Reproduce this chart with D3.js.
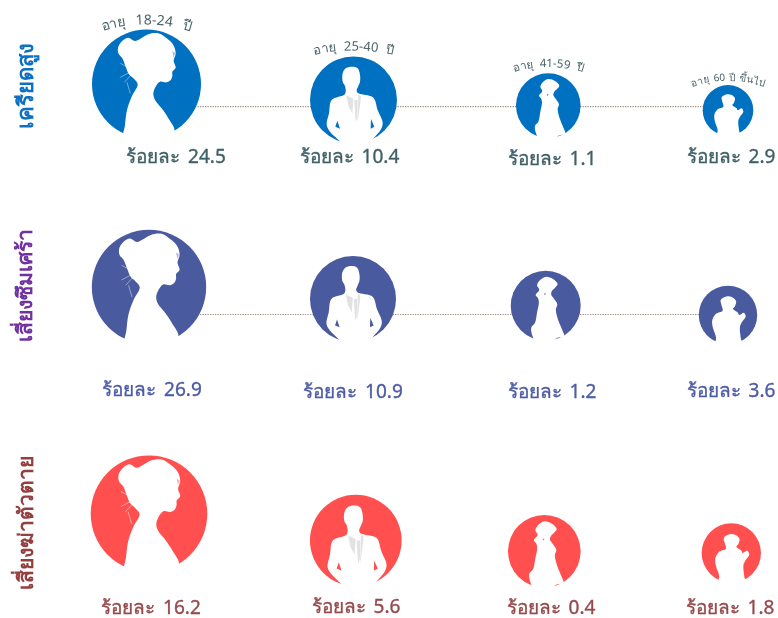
<!DOCTYPE html>
<html>
<head>
<meta charset="utf-8">
<script src="https://cdn.jsdelivr.net/npm/d3@7"></script>
<style>
  html, body { margin: 0; padding: 0; background: #fff; }
  svg { display: block; }
  text { font-family: "Noto Sans", "Open Sans", sans-serif; }
</style>
</head>
<body>
<div id="chart"></div>
<script>
// Data
var risks = ["เครียดสูง", "เสี่ยงซึมเศร้า", "เสี่ยงฆ่าตัวตาย"];
var ageKeys = ["18-24", "25-40", "41-59", "60+"];
var ageLabels = ["อายุ 18-24 ปี", "อายุ 25-40 ปี", "อายุ 41-59 ปี", "อายุ 60 ปี ขึ้นไป"];
var stressValues = [24.5, 10.4, 1.1, 2.9];
var depressionValues = [26.9, 10.9, 1.2, 3.6];
var suicideValues = [16.2, 5.6, 0.4, 1.8];
// circle size as drawn, percent of the biggest circle
var stressSizes = [93.5, 74.6, 55.4, 43.4];
var depressionSizes = [98.1, 73.8, 60.0, 50.1];
var suicideSizes = [100, 78.6, 62.3, 50.9];

var valueRows = [stressValues, depressionValues, suicideValues];
var sizeRows = [stressSizes, depressionSizes, suicideSizes];

// SVG Dimensions
var svgWidth = 778;
var svgHeight = 618;

// Styles per row
var circleColors = ["#0070c0", "#4a5a9f", "#ff5050"];
var labelColors = ["#3f6066", "#4d5ba6", "#96494b"];
var titleColors = ["#0e70c0", "#7030a0", "#953f41"];

// Layout: the picture is hand placed, so each cell gets a nudge from its column
var colX = d3.scaleOrdinal().domain(ageKeys).range([148, 354, 546, 729]);
var rowY = d3.scaleOrdinal().domain(risks).range([100, 305, 540]);
var sizeScale = d3.scaleLinear().domain([0, 100]).range([0, 58.3]);

var circleNudge = [
  [[-1.5, -16], [-0.5, 0], [2.3, 5.6], [-1, 10.3]],
  [[1, -18], [-1, -6], [-0.3, 0.7], [-1, 10]],
  [[1, -26.3], [1.8, 0.5], [-1.7, 11.3], [2.3, 13]]
];
var labelPos = [
  [[176, 163], [349.5, 163], [552, 165], [731, 163]],
  [[152, 396], [353, 397.5], [552, 397.5], [731, 396.5]],
  [[151, 613.5], [356, 613], [551, 613.5], [730, 613.5]]
];
var titlePos = [[33, 86], [32, 285.5], [33, 523]];
var titleSize = [22, 21, 21];
var dottedY = [106.7, 314.5];
var ageFont = [14, 13, 11.5, 10];
var ageWordGap = [6, 4, 3, 1.5];
var ageTop = [24.5, 50.5, 67, 80.7];
var ageArc = [140, 170, 110, 110];

// Silhouettes traced in crop pixels; ref = the circle they were traced in
var shapes = [
  {
    ref: [184.5, 177, 163.5],
    body: [[116, 345], [120, 300], [126, 255], [140, 215], [158, 178], [145, 160], [132, 148], [122, 125], [112, 100], [100, 85], [100, 65], [115, 45], [130, 38], [150, 48], [165, 42], [190, 28], [220, 25], [245, 40], [265, 60], [272, 85], [266, 108], [272, 128], [262, 140], [262, 152], [257, 165], [245, 172], [225, 170], [212, 185], [205, 205], [210, 225], [230, 250], [250, 280], [268, 320], [200, 350]],
    cuts: [],
    wisps: [[[106, 115], [130, 128]], [[106, 157], [134, 142]], [[118, 172], [138, 150]], [[126, 172], [136, 206]]],
    streak: [[262, 78], [270, 84], [266, 98]]
  },
  {
    ref: [145.5, 150, 130.5],
    body: [[140, 50], [158, 55], [165, 75], [165, 95], [160, 108], [155, 122], [160, 130], [205, 143], [218, 180], [233, 218], [228, 238], [212, 258], [195, 275], [150, 295], [110, 278], [92, 262], [75, 245], [65, 225], [72, 190], [80, 150], [120, 132], [120, 108], [113, 95], [113, 70], [122, 55]],
    cuts: [[[97, 212], [91, 230], [105, 236]], [[198, 207], [208, 230], [197, 236]]],
    shirt: [[[124, 136], [145, 146], [142, 190], [130, 168]], [[148, 150], [158, 150], [157, 205], [152, 215]], [[160, 132], [168, 140], [162, 190], [158, 215]]]
  },
  {
    ref: [114.9, 121.8, 96.9],
    body: [[115, 42], [135, 48], [148, 62], [141, 72], [133, 80], [130, 90], [136, 100], [147, 118], [143, 132], [149, 160], [161, 190], [166, 206], [145, 212], [130, 225], [90, 225], [78, 205], [75, 182], [85, 170], [91, 140], [96, 112], [93, 100], [87, 92], [97, 78], [91, 65], [100, 50]],
    cuts: [[[110, 88], [115, 88], [113, 93]]]
  },
  {
    ref: [99, 91, 75.9],
    body: [[95, 43], [110, 45], [120, 55], [117, 68], [112, 75], [125, 85], [128, 91], [140, 85], [145, 95], [135, 110], [130, 122], [132, 150], [135, 172], [66, 172], [68, 150], [60, 125], [58, 105], [68, 88], [85, 80], [82, 65], [80, 52]],
    cuts: []
  }
];

//SVG Wrapper
var svg = d3.select("#chart")
  .append("svg")
  .attr("width", svgWidth)
  .attr("height", svgHeight);

// soft edge, the reference is a scaled up bitmap
svg.append("defs").append("filter")
  .attr("id", "soft")
  .append("feGaussianBlur")
  .attr("stdDeviation", 0.45);

var chartGroup = svg.append("g").attr("filter", "url(#soft)");

var outline = d3.line().curve(d3.curveCatmullRomClosed.alpha(0.5));
var poly = d3.line().curve(d3.curveLinearClosed);
var open = d3.line().curve(d3.curveLinear);

// Flatten to one record per cell
var cells = [];
risks.forEach(function(risk, i) {
  ageKeys.forEach(function(age, j) {
    cells.push({
      row: i,
      col: j,
      value: valueRows[i][j],
      r: sizeScale(sizeRows[i][j]),
      x: colX(age) + circleNudge[i][j][0],
      y: rowY(risk) + circleNudge[i][j][1]
    });
  });
});

// Dotted connectors, behind the circles
chartGroup.selectAll(".connector")
  .data(dottedY)
  .enter()
  .append("line")
  .attr("class", "connector")
  .attr("x1", 150)
  .attr("x2", 728)
  .attr("y1", d => d)
  .attr("y2", d => d)
  .attr("stroke", "#9c8f85")
  .attr("stroke-width", 1.2)
  .attr("stroke-dasharray", "1.3 1.2");

// Circles with the white figure on top
var people = chartGroup.selectAll(".person")
  .data(cells)
  .enter()
  .append("g")
  .attr("class", "person")
  .attr("transform", d => `translate(${d.x}, ${d.y})`);

people.append("circle")
  .attr("r", d => d.r)
  .attr("fill", d => circleColors[d.row]);

var figures = people.append("g")
  .attr("transform", function(d) {
    var ref = shapes[d.col].ref;
    return `scale(${d.r / ref[2]}) translate(${-ref[0]}, ${-ref[1]})`;
  });

figures.append("path")
  .attr("d", d => outline(shapes[d.col].body))
  .attr("fill", "#fff");

figures.each(function(d) {
  var fig = d3.select(this);
  var shape = shapes[d.col];
  (shape.shirt || []).forEach(function(s) {
    fig.append("path").attr("d", poly(s)).attr("fill", "#e2e2e2");
  });
  shape.cuts.forEach(function(c) {
    fig.append("path").attr("d", poly(c)).attr("fill", circleColors[d.row]);
  });
  (shape.wisps || []).forEach(function(w) {
    fig.append("path").attr("d", open(w))
      .attr("fill", "none")
      .attr("stroke", "#fff")
      .attr("stroke-width", 1.6)
      .attr("opacity", 0.8);
  });
  if (shape.streak) {
    fig.append("path").attr("d", poly(shape.streak))
      .attr("fill", circleColors[d.row])
      .attr("opacity", 0.45);
  }
});

// Percent labels
chartGroup.selectAll(".value")
  .data(cells)
  .enter()
  .append("text")
  .attr("class", "value")
  .attr("x", d => labelPos[d.row][d.col][0])
  .attr("y", d => labelPos[d.row][d.col][1])
  .attr("text-anchor", "middle")
  .attr("font-size", "19px")
  .attr("word-spacing", "3px")
  .attr("fill", d => labelColors[d.row])
  .attr("stroke", d => labelColors[d.row])
  .attr("stroke-width", 0.35)
  .text(d => "ร้อยละ " + d.value);

// Row titles, rotated
chartGroup.selectAll(".title")
  .data(risks)
  .enter()
  .append("text")
  .attr("class", "title")
  .attr("transform", (d, i) => `translate(${titlePos[i][0]}, ${titlePos[i][1]}) rotate(-90)`)
  .attr("text-anchor", "middle")
  .attr("font-size", (d, i) => titleSize[i] + "px")
  .attr("font-weight", "bold")
  .attr("fill", (d, i) => titleColors[i])
  .text(d => d);

// Age labels sit on shallow arcs above the first row circles
var firstRow = cells.filter(d => d.row === 0);

chartGroup.selectAll(".agePath")
  .data(firstRow)
  .enter()
  .append("path")
  .attr("class", "agePath")
  .attr("id", d => "age" + d.col)
  .attr("fill", "none")
  .attr("d", function(d) {
    var r = ageArc[d.col];
    var cy = ageTop[d.col] + r;
    return `M${d.x - r},${cy} A${r},${r} 0 0 1 ${d.x + r},${cy}`;
  });

chartGroup.selectAll(".age")
  .data(firstRow)
  .enter()
  .append("text")
  .attr("class", "age")
  .attr("font-size", d => ageFont[d.col] + "px")
  .attr("word-spacing", d => ageWordGap[d.col] + "px")
  .attr("fill", "#4a6468")
  .append("textPath")
  .attr("href", d => "#age" + d.col)
  .attr("startOffset", "50%")
  .attr("text-anchor", "middle")
  .text(d => ageLabels[d.col]);
</script>
</body>
</html>
